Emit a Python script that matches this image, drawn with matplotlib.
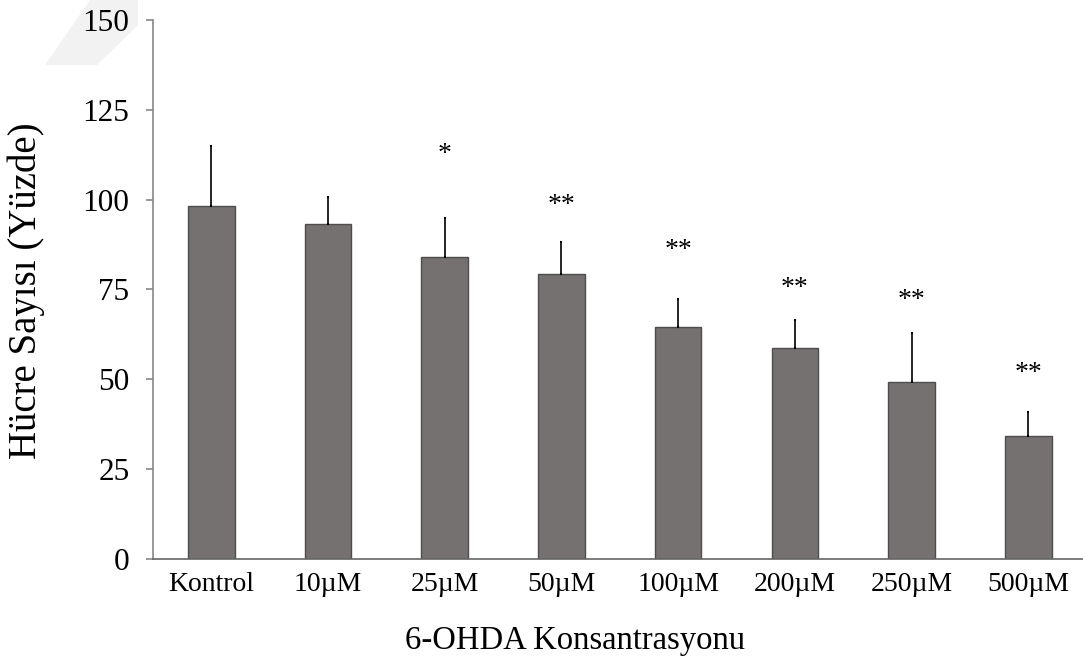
import numpy as np
import matplotlib
matplotlib.use('Agg')
import matplotlib.pyplot as plt
from matplotlib.patches import Polygon

# data
groups = ['Kontrol', '10µM', '25µM', '50µM', '100µM', '200µM', '250µM', '500µM']
means = [98.2, 93.2, 84.0, 79.3, 64.6, 58.7, 49.3, 34.3]
errs = [16.8, 7.5, 11.0, 8.8, 7.8, 7.8, 13.7, 6.5]
stars = ['', '', '*', '**', '**', '**', '**', '**']
star_y = [0, 0, 112.5, 98.5, 85.8, 75.3, 72.0, 51.6]

plt.rcParams['font.family'] = ['Liberation Serif', 'DejaVu Serif']

fig = plt.figure(figsize=(10.83, 6.59), dpi=100)

# faint grey shape in the top-left corner of the page
fig.patches.append(Polygon([(90/1083, 1.0), (138/1083, 1.0), (138/1083, 1-25/659),
                            (97/1083, 1-65/659), (45/1083, 1-65/659)],
                           closed=True, transform=fig.transFigure,
                           facecolor='#f2f2f2', edgecolor='none', zorder=-1))

ax = fig.add_axes([0.1413, 0.1517, 0.862, 0.818])

x = np.arange(len(groups))
ax.bar(x, means, width=0.40, color='#767171', edgecolor='#4d4d4d', linewidth=1.0, zorder=2)
ax.errorbar(x, means, yerr=[np.zeros(len(errs)), errs], fmt='none', ecolor='black',
            elinewidth=1.2, capsize=1.0, capthick=1.5, zorder=3)

for xi, s, sy in zip(x, stars, star_y):
    if s:
        ax.text(xi, sy, s, ha='center', va='center', fontsize=20)

ax.set_xlim(-0.5, 7.5)
ax.set_ylim(0, 150)
ax.set_yticks(np.arange(0, 151, 25))
ax.set_xticks(x)
ax.set_xticklabels(groups)

for sp in ['top', 'right']:
    ax.spines[sp].set_visible(False)
ax.spines['left'].set_color('#888888')
ax.spines['bottom'].set_color('#666666')
ax.spines['left'].set_linewidth(1.2)
ax.spines['bottom'].set_linewidth(1.2)

ax.tick_params(axis='y', length=5, width=1.2, color='#888888', labelsize=22.5, pad=12)
ax.tick_params(axis='x', length=0, labelsize=20, pad=9)

ax.set_xlabel('6-OHDA Konsantrasyonu', fontsize=23.5)
ax.xaxis.set_label_coords(0.452, -0.124)
fig.text(26/1083, 1-291/659, 'Hücre Sayısı (Yüzde)', rotation=90,
         ha='center', va='center', fontsize=28)

fig.savefig('out.png', dpi=100)
